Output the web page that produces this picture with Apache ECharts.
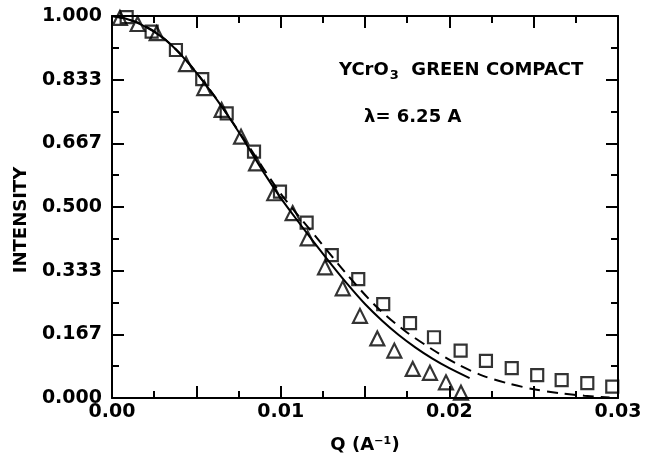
<!DOCTYPE html>
<html>
<head>
<meta charset="utf-8">
<script src="https://cdn.jsdelivr.net/npm/echarts@6/dist/echarts.min.js"></script>
<style>
    html, body { margin: 0; padding: 0; background: #fff; }
    #chart { width: 651px; height: 460px; }
</style>
</head>
<body>
<div id="chart"></div>
<script>
    // measured points, [Q, intensity]
    var squarePts = [
        [0.00087, 0.997], [0.00235, 0.959], [0.00379, 0.911], [0.00535, 0.835],
        [0.0068, 0.745], [0.00842, 0.645], [0.00996, 0.540], [0.01154, 0.459],
        [0.01303, 0.374], [0.0146, 0.311], [0.01608, 0.246], [0.01767, 0.196],
        [0.01909, 0.159], [0.02067, 0.124], [0.02217, 0.097], [0.0237, 0.078],
        [0.02521, 0.060], [0.02666, 0.047], [0.02818, 0.039], [0.02966, 0.030]
    ];
    var trianglePts = [
        [0.00047, 0.995], [0.00152, 0.979], [0.00265, 0.955], [0.00439, 0.874],
        [0.00547, 0.811], [0.0065, 0.754], [0.00765, 0.684], [0.00854, 0.614],
        [0.00962, 0.536], [0.01071, 0.484], [0.0116, 0.418], [0.01263, 0.342],
        [0.01368, 0.287], [0.0147, 0.215], [0.01573, 0.156], [0.01674, 0.124],
        [0.01783, 0.076], [0.01885, 0.066], [0.0198, 0.041], [0.02069, 0.014]
    ];
    // fitted curves
    var solidCurve = [
        [0, 1.0], [0.0007, 0.995], [0.0014, 0.984], [0.0021, 0.969],
        [0.0028, 0.950], [0.0035, 0.925], [0.0042, 0.893], [0.005, 0.852],
        [0.006, 0.794], [0.007, 0.731], [0.008, 0.662], [0.009, 0.590],
        [0.010, 0.524], [0.011, 0.464], [0.012, 0.406], [0.013, 0.350],
        [0.014, 0.296], [0.015, 0.246], [0.016, 0.203], [0.017, 0.165],
        [0.018, 0.132], [0.019, 0.103], [0.020, 0.078], [0.0212, 0.052]
    ];
    var dashedCurve = [
        [0, 1.0], [0.0014, 0.985], [0.0028, 0.951], [0.0042, 0.894],
        [0.006, 0.795], [0.008, 0.666], [0.010, 0.535], [0.012, 0.427],
        [0.014, 0.320], [0.0157, 0.238], [0.0173, 0.178], [0.019, 0.127],
        [0.0205, 0.088], [0.022, 0.058], [0.0235, 0.038], [0.025, 0.023],
        [0.0265, 0.013], [0.028, 0.006], [0.0295, 0.001]
    ];

    var font = 'DejaVu Sans';

    function boxAxis(extra) {
        // common frame style: thick black line, ticks pointing in
        var a = {
            axisLine: { show: true, onZero: false, lineStyle: { color: '#000', width: 2 } },
            axisTick: { show: true, inside: true, length: 12, lineStyle: { color: '#000', width: 2 } },
            minorTick: { show: true, splitNumber: 2, length: 7, lineStyle: { color: '#000', width: 2 } },
            splitLine: { show: false },
            minorSplitLine: { show: false }
        };
        for (var k in extra) a[k] = extra[k];
        return a;
    }

    var chart = echarts.init(document.getElementById('chart'));
    var option = {
        animation: false,
        backgroundColor: '#fff',
        grid: { left: 112, right: 33, top: 16, bottom: 62 },
        xAxis: [
            boxAxis({
                type: 'value', position: 'bottom', min: 0, max: 0.03, interval: 0.005,
                name: 'Q (A⁻¹)', nameLocation: 'middle', nameGap: 38,
                nameTextStyle: { fontFamily: font, fontSize: 18, fontWeight: 'bold', color: '#000' },
                axisLabel: {
                    fontFamily: font, fontSize: 19, fontWeight: 'bold', color: '#000', margin: 5,
                    formatter: function (v) {
                        var r = Math.round(v * 1000) / 1000;
                        return Math.abs(r * 100 - Math.round(r * 100)) < 1e-6 ? r.toFixed(2) : '';
                    }
                }
            }),
            boxAxis({
                type: 'value', position: 'top', min: 0, max: 0.03, interval: 0.005,
                axisLabel: { show: false }
            })
        ],
        yAxis: [
            boxAxis({
                type: 'value', position: 'left', min: 0, max: 1, interval: 1 / 6,
                name: 'INTENSITY', nameLocation: 'middle', nameRotate: 90, nameGap: 82,
                nameTextStyle: { fontFamily: font, fontSize: 18, fontWeight: 'bold', color: '#000', padding: [0, 26, 0, 0] },
                axisLabel: {
                    fontFamily: font, fontSize: 19, fontWeight: 'bold', color: '#000', margin: 10,
                    formatter: function (v) { return v.toFixed(3); }
                }
            }),
            boxAxis({
                type: 'value', position: 'right', min: 0, max: 1, interval: 1 / 6,
                axisLabel: { show: false }
            })
        ],
        graphic: [
            {
                type: 'text', left: 339, top: 61,
                style: {
                    text: 'YCrO{sub|3}  GREEN COMPACT',
                    font: 'bold 18px "DejaVu Sans"', fill: '#000',
                    rich: { sub: { fontFamily: font, fontWeight: 'bold', fontSize: 13, fill: '#000', padding: [11, 0, 0, 1] } }
                }
            },
            {
                type: 'text', left: 364, top: 108,
                style: { text: 'λ= 6.25 A', font: 'bold 18px "DejaVu Sans"', fill: '#000' }
            }
        ],
        series: [
            {
                type: 'line', data: solidCurve, smooth: 0.3, symbol: 'none',
                lineStyle: { color: '#000', width: 2 }, z: 2
            },
            {
                type: 'line', data: dashedCurve, smooth: 0.3, symbol: 'none',
                lineStyle: { color: '#000', width: 2, type: [11, 7] }, z: 2
            },
            {
                type: 'scatter', data: squarePts, symbol: 'rect', symbolSize: 12,
                itemStyle: { color: 'rgba(0,0,0,0)', borderColor: '#000', borderWidth: 2.2 }, z: 3
            },
            {
                type: 'scatter', data: trianglePts, symbol: 'triangle', symbolSize: 14,
                itemStyle: { color: 'rgba(0,0,0,0)', borderColor: '#000', borderWidth: 2.2 }, z: 3
            }
        ]
    };
    chart.setOption(option);
</script>
</body>
</html>
